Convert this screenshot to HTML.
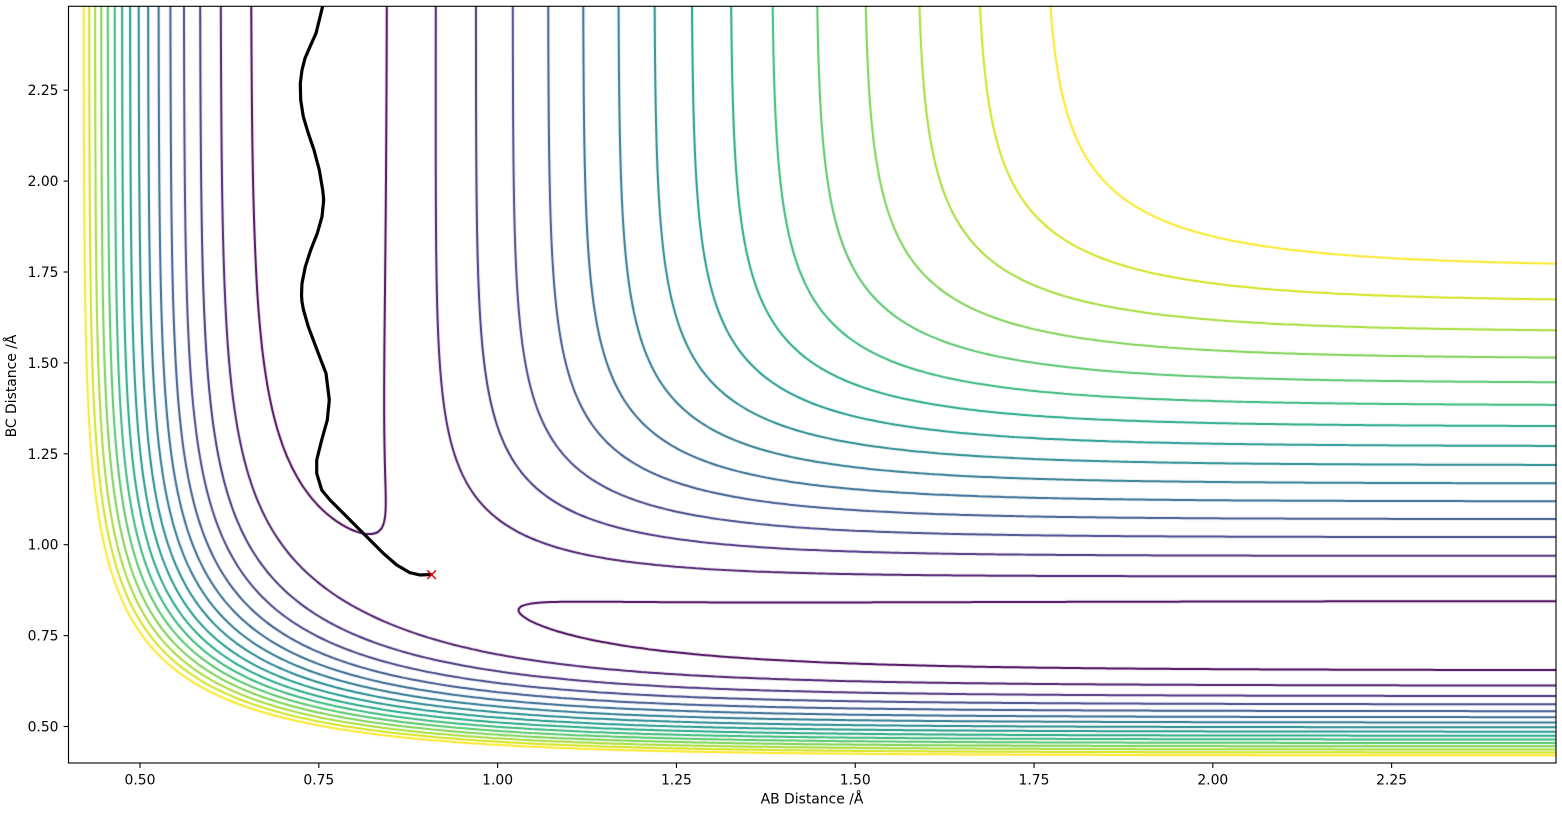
<!DOCTYPE html>
<html>
<head>
<meta charset="utf-8">
<style>
html,body{margin:0;padding:0;background:#fff;width:1562px;height:817px;overflow:hidden;}
#c{position:absolute;left:0;top:0;}
#s{position:absolute;left:0;top:0;}
text{font-family:"DejaVu Sans","Liberation Sans",sans-serif;font-size:13.9px;fill:#000;}
</style>
</head>
<body>
<canvas id="c" width="1562" height="817"></canvas>
<svg id="s" width="1562" height="817" xmlns="http://www.w3.org/2000/svg">
  <defs>
    <clipPath id="ax"><rect x="68.5" y="6.3" width="1487.5" height="756.7"/></clipPath>
  </defs>
  <g clip-path="url(#ax)">
    <polyline fill="none" stroke="#000" stroke-width="3.2" stroke-linejoin="round" stroke-linecap="round"
      points="323.5,0 322.7,6 319.3,20 316,33.3 310,46.7 305,58.3 302,70 300.3,83.3 300.7,100 303.3,116.7 308.3,133.3 314,150 319.3,170 322.7,190 323.7,200 322,216.7 317.3,233.3 310.7,250 305.3,266.7 302,283.3 301.5,295 302,302 303.5,310 308.3,326.7 318.3,353.3 326,373.3 329.3,400 327.3,420 321.7,440 316.7,460 316.7,473.3 321.7,490 330,500 343.3,513.3 356.7,526.7 370,540 383.3,553.3 396.7,565 410,572.7 420,575 430.7,574.5"/>
    <g stroke="#e00000" stroke-width="1.5">
      <line x1="427.3" y1="570.4" x2="435.9" y2="579"/>
      <line x1="427.3" y1="579" x2="435.9" y2="570.4"/>
    </g>
  </g>
  <rect x="68.5" y="6.3" width="1487.5" height="756.7" fill="none" stroke="#000" stroke-width="1.1"/>
  <g stroke="#000" stroke-width="1.1">
    <line x1="140.02" y1="763" x2="140.02" y2="768"/>
    <line x1="318.82" y1="763" x2="318.82" y2="768"/>
    <line x1="497.62" y1="763" x2="497.62" y2="768"/>
    <line x1="676.42" y1="763" x2="676.42" y2="768"/>
    <line x1="855.22" y1="763" x2="855.22" y2="768"/>
    <line x1="1034.02" y1="763" x2="1034.02" y2="768"/>
    <line x1="1212.82" y1="763" x2="1212.82" y2="768"/>
    <line x1="1391.62" y1="763" x2="1391.62" y2="768"/>
    <line x1="63.6" y1="726.5" x2="68.5" y2="726.5"/>
    <line x1="63.6" y1="635.6" x2="68.5" y2="635.6"/>
    <line x1="63.6" y1="544.7" x2="68.5" y2="544.7"/>
    <line x1="63.6" y1="453.8" x2="68.5" y2="453.8"/>
    <line x1="63.6" y1="362.9" x2="68.5" y2="362.9"/>
    <line x1="63.6" y1="272.0" x2="68.5" y2="272.0"/>
    <line x1="63.6" y1="181.1" x2="68.5" y2="181.1"/>
    <line x1="63.6" y1="90.2" x2="68.5" y2="90.2"/>
  </g>
  <g text-anchor="middle">
    <text x="140.02" y="784.3">0.50</text>
    <text x="318.82" y="784.3">0.75</text>
    <text x="497.62" y="784.3">1.00</text>
    <text x="676.42" y="784.3">1.25</text>
    <text x="855.22" y="784.3">1.50</text>
    <text x="1034.02" y="784.3">1.75</text>
    <text x="1212.82" y="784.3">2.00</text>
    <text x="1391.62" y="784.3">2.25</text>
    <text x="812" y="803.3">AB Distance /Å</text>
  </g>
  <g text-anchor="end">
    <text x="58.5" y="731.5">0.50</text>
    <text x="58.5" y="640.6">0.75</text>
    <text x="58.5" y="549.7">1.00</text>
    <text x="58.5" y="458.8">1.25</text>
    <text x="58.5" y="367.9">1.50</text>
    <text x="58.5" y="277.0">1.75</text>
    <text x="58.5" y="186.1">2.00</text>
    <text x="58.5" y="95.2">2.25</text>
  </g>
  <text x="0" y="0" text-anchor="middle" transform="translate(16.2,386) rotate(-90)">BC Distance /Å</text>
</svg>
<script>
(function(){
  var cv=document.getElementById('c');
  var ctx=cv.getContext('2d');
  var X0=68.5,SX=715.2,Y0=763,SY=363.7,LO=0.4,HI=2.48;
  var D=4.746,A=1.942,R0=0.7414;
  function makeV(k){
    var c=D/(4*(1+k)),qa=3+k,qb=2+6*k,ja=1+3*k,jb=6+2*k;
    return function(r1,r2){
      var e1=Math.exp(-A*(r1-R0)),e2=Math.exp(-A*(r2-R0)),e3=Math.exp(-A*(r1+r2-R0));
      var Q=c*(qa*(e1*e1+e2*e2+e3*e3)-qb*(e1+e2+e3));
      var J1=c*(ja*e1*e1-jb*e1),J2=c*(ja*e2*e2-jb*e2),J3=c*(ja*e3*e3-jb*e3);
      var s=0.5*((J1-J2)*(J1-J2)+(J2-J3)*(J2-J3)+(J3-J1)*(J3-J1));
      return Q-Math.sqrt(Math.max(0,s));
    };
  }
  function ab(x){return LO+(x-X0)/SX;}
  function bc(y){return LO+(Y0-y)/SY;}
  var right=[599,575,555,536.7,519,501,483.3,465.3,446,426,405,382.3,357,329.3,297.3,260];
  var top=[389.3,436,475.3,512,546.7,581.7,616.7,652.7,690,729.3,770.7,816,864.3,919.3,982.3];
  var bcTop=bc(12);
  function levelsFor(f){
    var n=0,sk=0,sv=0,skk=0,skv=0;
    function add(k,v){if(!isFinite(v))return;n++;sk+=k;sv+=v;skk+=k*k;skv+=k*v;}
    for(var i=0;i<right.length;i++)add(i,f(2.475,bc(right[i])));
    for(var i=0;i<top.length;i++)add(i,f(ab(top[i]),bcTop));
    var S=(n*skv-sk*sv)/(n*skk-sk*sk),L0=(sv-S*sk)/n;
    return [L0,S];
  }
  // constraint points: [x,y,level,weight]
  var cons=[[340,530,0,3],[357,533,0,6],[368,533,0,6],[375,530,0,3],[516.7,610,0,6],[520,616.7,0,3],[531.7,623.3,0,3],[533.3,603.3,0,3],
            [453,487,1,0.5],[480,517,1,0.5]];
  var bestK=0.18,bestScore=1e99;
  try{
    for(var k=0.0;k<=0.45;k+=0.0005){
      var ff=makeV(k);var ls=levelsFor(ff);
      if(!isFinite(ls[0])||!isFinite(ls[1]))continue;
      var sc=0;
      for(var m=0;m<cons.length;m++){
        var p=cons[m];var d=ff(ab(p[0]),bc(p[1]))-(ls[0]+ls[1]*p[2]);sc+=p[3]*d*d;
      }
      var bv=1e9;for(var r=0.8;r<=1.1;r+=0.001){var v=ff(r,r);if(v<bv)bv=v;}
      if(bv<ls[0])sc+=10*(ls[0]-bv)*(ls[0]-bv)+0.01;
      if(bv>ls[0]+ls[1])sc+=10*(bv-ls[0]-ls[1])*(bv-ls[0]-ls[1])+0.01;
      if(sc<bestScore){bestScore=sc;bestK=k;}
    }
  }catch(e){bestK=0.18;}
  if(!isFinite(bestK))bestK=0.18;
  var f=makeV(bestK);
  var ls=levelsFor(f),L0=ls[0],S=ls[1];
  if(!isFinite(S)||!isFinite(L0)||S<=0){S=0.226;L0=-D+0.1665;}
  var cols=['#440154','#481a6c','#472f7d','#414487','#39568c','#31688e','#2a788e','#23888e','#1f988b','#22a884','#35b779','#54c568','#7ad151','#a5db36','#d2e21b','#fde725'];

  var N=300,h=(HI-LO)/(N-1);
  var g=new Float64Array(N*N);
  for(var j=0;j<N;j++)for(var i=0;i<N;i++)g[j*N+i]=f(LO+i*h,LO+j*h);
  function PX(t){return X0+t*h*SX;}
  function PY(t){return Y0-t*h*SY;}

  ctx.save();
  ctx.beginPath();ctx.rect(68.5,6.3,1487.5,756.7);ctx.clip();
  ctx.lineWidth=2.0;ctx.lineCap='round';ctx.lineJoin='round';
  for(var k=0;k<16;k++){
    var L=L0+S*k;
    ctx.strokeStyle=cols[k];
    ctx.beginPath();
    for(var j=0;j<N-1;j++){
      for(var i=0;i<N-1;i++){
        var a=g[j*N+i],b=g[j*N+i+1],c=g[(j+1)*N+i+1],d=g[(j+1)*N+i];
        var A1=a>L,B1=b>L,C1=c>L,D1=d>L;
        if(A1===B1&&B1===C1&&C1===D1)continue;
        var p=[];var t;
        if(A1!==B1){t=(L-a)/(b-a);p.push(PX(i+t),PY(j));}
        if(B1!==C1){t=(L-b)/(c-b);p.push(PX(i+1),PY(j+t));}
        if(D1!==C1){t=(L-d)/(c-d);p.push(PX(i+t),PY(j+1));}
        if(A1!==D1){t=(L-a)/(d-a);p.push(PX(i),PY(j+t));}
        if(p.length>=4){ctx.moveTo(p[0],p[1]);ctx.lineTo(p[2],p[3]);}
        if(p.length===8){ctx.moveTo(p[4],p[5]);ctx.lineTo(p[6],p[7]);}
      }
    }
    ctx.stroke();
  }
  ctx.restore();
})();
</script>
</body>
</html>
